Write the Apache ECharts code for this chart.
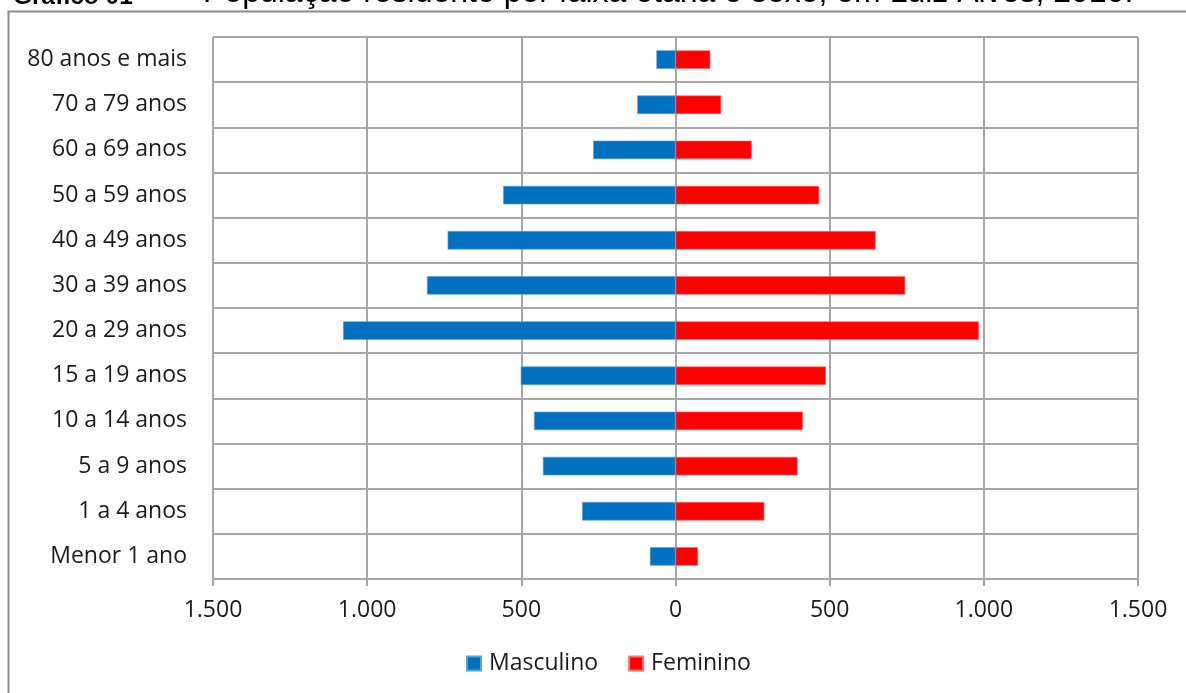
<!DOCTYPE html>
<html>
<head>
<meta charset="utf-8">
<script src="https://cdn.jsdelivr.net/npm/echarts@6/dist/echarts.min.js"></script>
<style>
html,body{margin:0;padding:0;background:#fff;}
#chart{width:1186px;height:693px;}
</style>
</head>
<body>
<div id="chart"></div>
<script>
const categories = ["Menor 1 ano","1 a 4 anos","5 a 9 anos","10 a 14 anos","15 a 19 anos","20 a 29 anos","30 a 39 anos","40 a 49 anos","50 a 59 anos","60 a 69 anos","70 a 79 anos","80 anos e mais"];
const masculino = [83, 303, 430, 459, 502, 1078, 806, 739, 559, 267, 124, 62];
const feminino = [73, 288, 396, 413, 488, 984, 745, 649, 466, 247, 148, 113];
const xTicks = [-1500, -1000, -500, 0, 500, 1000, 1500];
const titleBold = "Gráfico 01";
const titleDash = "–";
const titleRest = "População residente por faixa etária e sexo, em Luiz Alves, 2010.";

function fmt(v){
  const a = Math.abs(v);
  return a >= 1000 ? Math.floor(a/1000) + '.' + String(a%1000).padStart(3,'0') : String(a);
}

const chart = echarts.init(document.getElementById('chart'));
const font = '"Open Sans", sans-serif';
const tfont = '"Liberation Sans", Arial, sans-serif';
chart.setOption({
  animation: false,
  backgroundColor: '#fff',
  graphic: [
    {type:'rect', shape:{x:8.5, y:11.5, width:1300, height:800}, style:{fill:'none', stroke:'#8c8c8c', lineWidth:2}, z:0},
    {type:'text', x:13, y:10, style:{text:titleBold, fontFamily:tfont, fontWeight:'bold', fontSize:24.5, fill:'#000', verticalAlign:'bottom'}},
    {type:'text', x:157, y:14, style:{text:titleDash, fontFamily:tfont, fontSize:32, fill:'#000', verticalAlign:'bottom'}},
    {type:'text', x:203, y:9, style:{text:titleRest, fontFamily:tfont, fontSize:32, fill:'#000', verticalAlign:'bottom'}}
  ],
  grid: {left:213, right:48, top:37, bottom:114, containLabel:false},
  legend: {
    data:['Masculino','Feminino'],
    bottom: 13, left:461,
    itemWidth:14, itemHeight:14, itemGap:30,
    icon:'rect',
    textStyle:{fontFamily:font, fontSize:23, color:'#1a1a1a', padding:[0,0,0,3]}
  },
  xAxis: {
    type:'value', min:-1500, max:1500, interval:500,
    axisLine:{show:true, lineStyle:{color:'#a6a6a6', width:2}},
    axisTick:{show:true, length:7, lineStyle:{color:'#a6a6a6', width:2}},
    splitLine:{show:true, lineStyle:{color:'#a6a6a6', width:2}},
    axisLabel:{formatter:fmt, margin:20, fontFamily:font, fontSize:23, color:'#1a1a1a'}
  },
  yAxis: {
    type:'category', data:categories,
    axisLine:{show:true, lineStyle:{color:'#a6a6a6', width:2}},
    axisTick:{show:false},
    splitLine:{show:true, lineStyle:{color:'#a6a6a6', width:2}},
    axisLabel:{margin:26, fontFamily:font, fontSize:23, color:'#1a1a1a'}
  },
  series: [
    {name:'Masculino', type:'bar', stack:'t', barWidth:18.5,
     data: masculino.map(v => -v),
     itemStyle:{color:'#0070C0', borderColor:'#5aa0d8', borderWidth:0.6}},
    {name:'Feminino', type:'bar', stack:'t', barWidth:18.5,
     data: feminino,
     itemStyle:{color:'#FF0000', borderColor:'#ff7070', borderWidth:0.6}}
  ]
});
</script>
</body>
</html>
